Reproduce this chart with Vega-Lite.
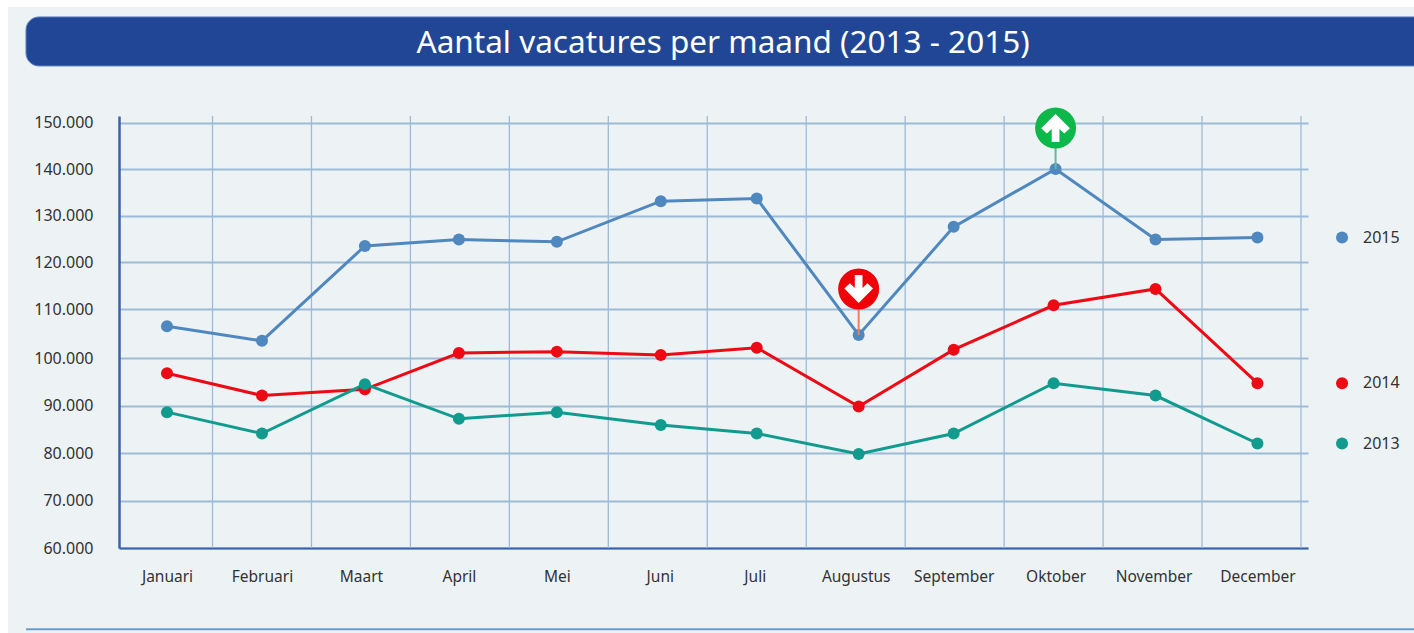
{
"$schema":"https://vega.github.io/schema/vega-lite/v6.json",
"width":1189,"height":432,
"autosize":{"type":"none"},
"padding":{"left":119,"top":116,"right":106,"bottom":85},
"background":"#edf2f5",
"config":{"view":{"stroke":null},"font":"Noto Sans"},
"datasets":{
"reeksen":[
{"maand":"Januari","positie":0.54,"jaar":"2015","vacatures":106500},
{"maand":"Februari","positie":1.50,"jaar":"2015","vacatures":103500},
{"maand":"Maart","positie":2.54,"jaar":"2015","vacatures":123500},
{"maand":"April","positie":3.49,"jaar":"2015","vacatures":124900},
{"maand":"Mei","positie":4.48,"jaar":"2015","vacatures":124400},
{"maand":"Juni","positie":5.53,"jaar":"2015","vacatures":133100},
{"maand":"Juli","positie":6.50,"jaar":"2015","vacatures":133700},
{"maand":"Augustus","positie":7.53,"jaar":"2015","vacatures":104700},
{"maand":"September","positie":8.49,"jaar":"2015","vacatures":127600},
{"maand":"Oktober","positie":9.52,"jaar":"2015","vacatures":140000},
{"maand":"November","positie":10.53,"jaar":"2015","vacatures":124900},
{"maand":"December","positie":11.56,"jaar":"2015","vacatures":125300},
{"maand":"Januari","positie":0.54,"jaar":"2014","vacatures":96800},
{"maand":"Februari","positie":1.50,"jaar":"2014","vacatures":92100},
{"maand":"Maart","positie":2.54,"jaar":"2014","vacatures":93400},
{"maand":"April","positie":3.49,"jaar":"2014","vacatures":101000},
{"maand":"Mei","positie":4.48,"jaar":"2014","vacatures":101300},
{"maand":"Juni","positie":5.53,"jaar":"2014","vacatures":100600},
{"maand":"Juli","positie":6.50,"jaar":"2014","vacatures":102100},
{"maand":"Augustus","positie":7.53,"jaar":"2014","vacatures":89800},
{"maand":"September","positie":8.49,"jaar":"2014","vacatures":101700},
{"maand":"Oktober","positie":9.50,"jaar":"2014","vacatures":110800},
{"maand":"November","positie":10.53,"jaar":"2014","vacatures":114300},
{"maand":"December","positie":11.56,"jaar":"2014","vacatures":94700},
{"maand":"Januari","positie":0.54,"jaar":"2013","vacatures":88600},
{"maand":"Februari","positie":1.50,"jaar":"2013","vacatures":84100},
{"maand":"Maart","positie":2.54,"jaar":"2013","vacatures":94500},
{"maand":"April","positie":3.49,"jaar":"2013","vacatures":87200},
{"maand":"Mei","positie":4.48,"jaar":"2013","vacatures":88600},
{"maand":"Juni","positie":5.53,"jaar":"2013","vacatures":85900},
{"maand":"Juli","positie":6.50,"jaar":"2013","vacatures":84100},
{"maand":"Augustus","positie":7.53,"jaar":"2013","vacatures":79800},
{"maand":"September","positie":8.49,"jaar":"2013","vacatures":84100},
{"maand":"Oktober","positie":9.50,"jaar":"2013","vacatures":94700},
{"maand":"November","positie":10.53,"jaar":"2013","vacatures":92100},
{"maand":"December","positie":11.56,"jaar":"2013","vacatures":82000}
],
"legenda":[
{"jaar":"2015","vacatures":125300},
{"jaar":"2014","vacatures":94700},
{"jaar":"2013","vacatures":82000}
],
"grenzen":[{"g":1},{"g":2},{"g":3},{"g":4},{"g":5},{"g":6},{"g":7},{"g":8},{"g":9},{"g":10},{"g":11},{"g":12}],
"piek":[{"positie":9.52,"van":140000,"tot":148900}],
"dal":[{"positie":7.53,"van":104700,"tot":114300}],
"een":[{}]
},
"layer":[
{"data":{"name":"grenzen"},"mark":{"type":"rule","color":"#9bbbd8","strokeWidth":1.3},
 "encoding":{"x":{"field":"g","type":"quantitative",
   "scale":{"domain":[0.055,12.071],"nice":false,"zero":false},
   "axis":{"title":null,"values":[0.54,1.5,2.5,3.49,4.48,5.52,6.48,7.5,8.49,9.52,10.51,11.56],
     "labelExpr":"['Januari','Februari','Maart','April','Mei','Juni','Juli','Augustus','September','Oktober','November','December'][floor(datum.value)]",
     "ticks":false,"grid":false,"domainColor":"#3a62a8","domainWidth":2,"labelColor":"#333333","labelFontSize":15.5,"labelPadding":21,"labelAngle":0,"labelOverlap":false,"labelFont":"Noto Sans"}}}},
{"data":{"name":"reeksen"},"mark":{"type":"line","strokeWidth":3},
 "encoding":{
  "x":{"field":"positie","type":"quantitative","title":null},
  "y":{"field":"vacatures","type":"quantitative",
   "scale":{"domain":[60000,100000,110000,140000,151500],"range":[432,242,193,53,0],"nice":false,"zero":false},
   "axis":{"title":null,"values":[60000,70000,80000,90000,100000,110000,120000,130000,140000,150000],
     "labelExpr":"replace(format(datum.value,','),',','.')",
     "ticks":false,"grid":true,"gridColor":"#9bbbd8","gridWidth":1.8,"domainColor":"#3a62a8","domainWidth":2.5,"labelColor":"#333333","labelFontSize":16,"labelPadding":26,"labelFont":"Noto Sans"}},
  "color":{"field":"jaar","type":"nominal","legend":null,"scale":{"domain":["2015","2014","2013"],"range":["#4f87bf","#ee0a14","#109b8e"]}},
  "order":{"field":"positie","type":"quantitative"}}},
{"data":{"name":"reeksen"},"mark":{"type":"point","filled":true,"opacity":1,"size":144},
 "encoding":{
  "x":{"field":"positie","type":"quantitative","title":null},
  "y":{"field":"vacatures","type":"quantitative","title":null},
  "color":{"field":"jaar","type":"nominal","legend":null}}},
{"data":{"name":"legenda"},"mark":{"type":"point","filled":true,"opacity":1,"size":144},
 "encoding":{
  "x":{"datum":12.415},
  "y":{"field":"vacatures","type":"quantitative","title":null},
  "color":{"field":"jaar","type":"nominal","legend":null}}},
{"data":{"name":"legenda"},"mark":{"type":"text","align":"left","baseline":"middle","fontSize":16,"color":"#333333","font":"Noto Sans"},
 "encoding":{
  "x":{"datum":12.627},
  "y":{"field":"vacatures","type":"quantitative","title":null},
  "text":{"field":"jaar","type":"nominal"}}},
{"data":{"name":"piek"},"mark":{"type":"rule","color":"#66b8a0","strokeWidth":2},
 "encoding":{"x":{"field":"positie","type":"quantitative","title":null},"y":{"field":"van","type":"quantitative","title":null},"y2":{"field":"tot"}}},
{"data":{"name":"dal"},"mark":{"type":"rule","color":"#e8805f","strokeWidth":2},
 "encoding":{"x":{"field":"positie","type":"quantitative","title":null},"y":{"field":"van","type":"quantitative","title":null},"y2":{"field":"tot"}}},
{"data":{"name":"piek"},"mark":{"type":"point","filled":true,"opacity":1,"size":1681,"shape":"circle","color":"#0cb84a"},
 "encoding":{"x":{"field":"positie","type":"quantitative","title":null},"y":{"field":"tot","type":"quantitative","title":null}}},
{"data":{"name":"piek"},"mark":{"type":"point","filled":true,"opacity":1,"size":1225,"color":"#ffffff","shape":"M0,-0.8L0.82,0.02L0.5,0.32L0.22,0.06L0.22,0.8L-0.22,0.8L-0.22,0.06L-0.5,0.32L-0.82,0.02Z"},
 "encoding":{"x":{"field":"positie","type":"quantitative","title":null},"y":{"field":"tot","type":"quantitative","title":null}}},
{"data":{"name":"dal"},"mark":{"type":"point","filled":true,"opacity":1,"size":1681,"shape":"circle","color":"#f00008"},
 "encoding":{"x":{"field":"positie","type":"quantitative","title":null},"y":{"field":"tot","type":"quantitative","title":null}}},
{"data":{"name":"dal"},"mark":{"type":"point","filled":true,"opacity":1,"size":1225,"color":"#ffffff","shape":"M0,0.8L0.82,-0.02L0.5,-0.32L0.22,-0.06L0.22,-0.8L-0.22,-0.8L-0.22,-0.06L-0.5,-0.32L-0.82,-0.02Z"},
 "encoding":{"x":{"field":"positie","type":"quantitative","title":null},"y":{"field":"tot","type":"quantitative","title":null}}},
{"data":{"name":"een"},"mark":{"type":"rect","color":"#ffffff"},
 "encoding":{"x":{"datum":-2},"x2":{"datum":-1.067},"y":{"datum":30000},"y2":{"datum":180000}}},
{"data":{"name":"een"},"mark":{"type":"rect","color":"#ffffff"},
 "encoding":{"x":{"datum":-2},"x2":{"datum":15},"y":{"datum":175150},"y2":{"datum":180000}}},
{"data":{"name":"een"},"mark":{"type":"rect","color":"#214695","stroke":"#5f86c0","strokeWidth":1,"cornerRadius":13},
 "encoding":{"x":{"datum":-0.885},"x2":{"datum":14.5},"y":{"datum":173000},"y2":{"datum":162350}}},
{"data":{"name":"een"},"mark":{"type":"text","text":"Aantal vacatures per maand (2013 - 2015)","color":"#ffffff","fontSize":31.5,"font":"Noto Sans","align":"center","baseline":"middle"},
 "encoding":{"x":{"datum":6.16},"y":{"datum":167200}}},
{"data":{"name":"een"},"mark":{"type":"rule","color":"#6b9ccc","strokeWidth":2},
 "encoding":{"x":{"datum":-0.885},"x2":{"datum":15},"y":{"datum":42900}}}
]
}
